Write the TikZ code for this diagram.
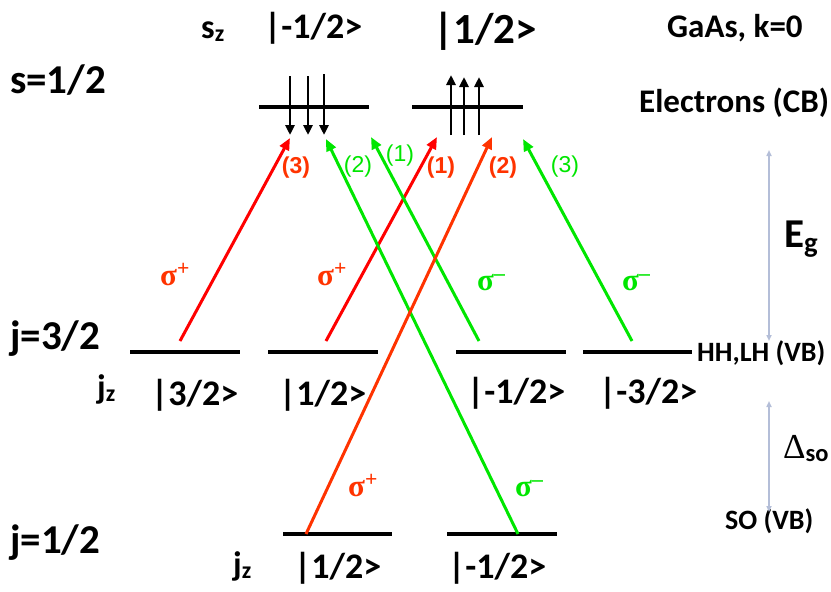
\documentclass[tikz,border=0pt]{standalone}
\usepackage{fontspec}
\setmainfont{Carlito}
\newfontfamily\arialf{Liberation Sans}
\newfontfamily\symf{Liberation Serif}
\usepackage{xcolor}
\definecolor{sred}{HTML}{FF0000}
\definecolor{sorange}{HTML}{FF3300}
\definecolor{sgreen}{HTML}{00E600}
\definecolor{sgap}{HTML}{B4BED8}
\usetikzlibrary{arrows.meta}
\tikzset{
  lvl/.style={line width=3.5pt},
  tb/.style={anchor=base west, inner sep=0pt},
  lbig/.style={tb, font=\fontsize{41}{41}\selectfont\bfseries},
  lket/.style={tb, font=\fontsize{36}{36}\selectfont\bfseries},
  lsub/.style={tb, font=\fontsize{34}{34}\selectfont\bfseries},
  lside/.style={tb, font=\fontsize{33}{33}\selectfont\bfseries},
  lvb/.style={tb, font=\fontsize{28}{28}\selectfont\bfseries},
  sig/.style={tb, font=\fontsize{31}{31}\selectfont\symf\bfseries},
  num/.style={inner sep=0pt, font=\fontsize{23}{23}\selectfont\arialf},
  numb/.style={inner sep=0pt, font=\fontsize{23}{23}\selectfont\arialf\bfseries},
  spin/.style={-{Triangle[length=10pt,width=9pt]}, line width=2.8pt},
  tr/.style={-{Triangle[length=12pt,width=10pt]}, line width=3pt},
  gap/.style={{Triangle[length=6pt,width=5pt]}-{Triangle[length=6pt,width=5pt]}, draw=sgap, line width=1.5pt},
}

\begin{document}
\begin{tikzpicture}[x=1pt,y=-1pt]
  \useasboundingbox (0,0) rectangle (831,592);

  % headings
  \node[lbig] (s12) at (10,93) {s=1/2};
  \node[lsub] (sz) at (201,38) {s\textsubscript{z}};
  \node[lket] (cbm) at (264,38) {|-1/2>};
  \node[tb, font=\fontsize{43}{43}\selectfont\bfseries] (cbp) at (433,43) {|1/2>};
  \node[lside] (gaas) at (667,37) {GaAs, k=0};
  \node[lside] (elec) at (639,112) {Electrons (CB)};

  % conduction band
  \draw[lvl] (259,107) -- (369,107);
  \draw[lvl] (412,107) -- (523,107);
  \foreach \x/\y in {290/76, 308/76, 324/74}
    \draw[spin] (\x,\y) -- (\x,135);
  \foreach \x/\y in {451/75, 464/77, 479/77}
    \draw[spin] (\x,135) -- (\x,\y);

  % valence bands
  \node[lbig] (j32) at (10,349) {j=3/2};
  \draw[lvl] (130,352) -- (240,352);
  \draw[lvl] (268,352) -- (378,352);
  \draw[lvl] (456,352) -- (566,352);
  \draw[lvl] (583,352) -- (692,352);
  \node[lsub] (jz1) at (97,398) {j\textsubscript{z}};
  \node[lket] (h32) at (151,405) {|3/2>};
  \node[lket] (h12) at (279,405) {|1/2>};
  \node[lket] (hm12) at (467,403) {|-1/2>};
  \node[lket] (hm32) at (599,403) {|-3/2>};
  \node[lvb] (hhlh) at (697,361) {HH,LH (VB)};

  \node[lbig] (j12) at (10,553) {j=1/2};
  \draw[lvl] (283,534) -- (392,534);
  \draw[lvl] (447,534) -- (557,534);
  \node[lsub] (jz2) at (233,575) {j\textsubscript{z}};
  \node[lket] (s12k) at (294,578) {|1/2>};
  \node[lket] (sm12k) at (448,578) {|-1/2>};
  \node[lvb] (sovb) at (725,529) {SO (VB)};

  % gaps
  \coordinate (egtop) at (769,150);
  \coordinate (egbot) at (769,341);
  \coordinate (sotop) at (769,401);
  \coordinate (sobot) at (769,512);
  \draw[gap] (egtop) -- (egbot);
  \draw[gap] (sotop) -- (sobot);
  \node[lbig] (eg) at (784,247) {E\textsubscript{g}};
  \node[tb, font=\fontsize{35}{35}\selectfont] (dso) at (783,458) {{\symf Δ}\textsubscript{\bfseries so}};

  % transitions
  \coordinate (a3) at (180,341);   \coordinate (c3) at (290,138);
  \coordinate (a1) at (326,341);   \coordinate (c1) at (437,137);
  \coordinate (b2) at (518,534);   \coordinate (d2) at (326,139);
  \coordinate (b1) at (479,341);   \coordinate (d1) at (371,137);
  \coordinate (o2) at (306,534);   \coordinate (e2) at (492,137);
  \coordinate (b3) at (632,341);   \coordinate (d3) at (523,139);
  \draw[tr, sred] (a3) -- (c3);
  \draw[tr, sred] (a1) -- (c1);
  \draw[tr, sgreen] (b2) -- (d2);
  \draw[tr, sgreen] (b1) -- (d1);
  \draw[tr, sorange] (o2) -- (e2);
  \draw[tr, sgreen] (b3) -- (d3);

  \node[numb, sorange] (n3r) at (296,168) {(3)};
  \node[num, sgreen] (n2g) at (358,167) {(2)};
  \node[num, sgreen] (n1g) at (400,156) {(1)};
  \node[numb, sorange] (n1r) at (441,168) {(1)};
  \node[numb, sorange] (n2o) at (503,168) {(2)};
  \node[num, sgreen] (n3g) at (565,167) {(3)};

  \node[sig, sorange] (sp1) at (160,285) {σ\textsuperscript{+}};
  \node[sig, sorange] (sp2) at (317,285) {σ\textsuperscript{+}};
  \node[sig, sgreen] (sm1) at (477,290) {σ\textsuperscript{–}};
  \node[sig, sgreen] (sm2) at (622,290) {σ\textsuperscript{–}};
  \node[sig, sorange] (sp3) at (348,496) {σ\textsuperscript{+}};
  \node[sig, sgreen] (sm3) at (515,496) {σ\textsuperscript{–}};
\end{tikzpicture}
\end{document}
